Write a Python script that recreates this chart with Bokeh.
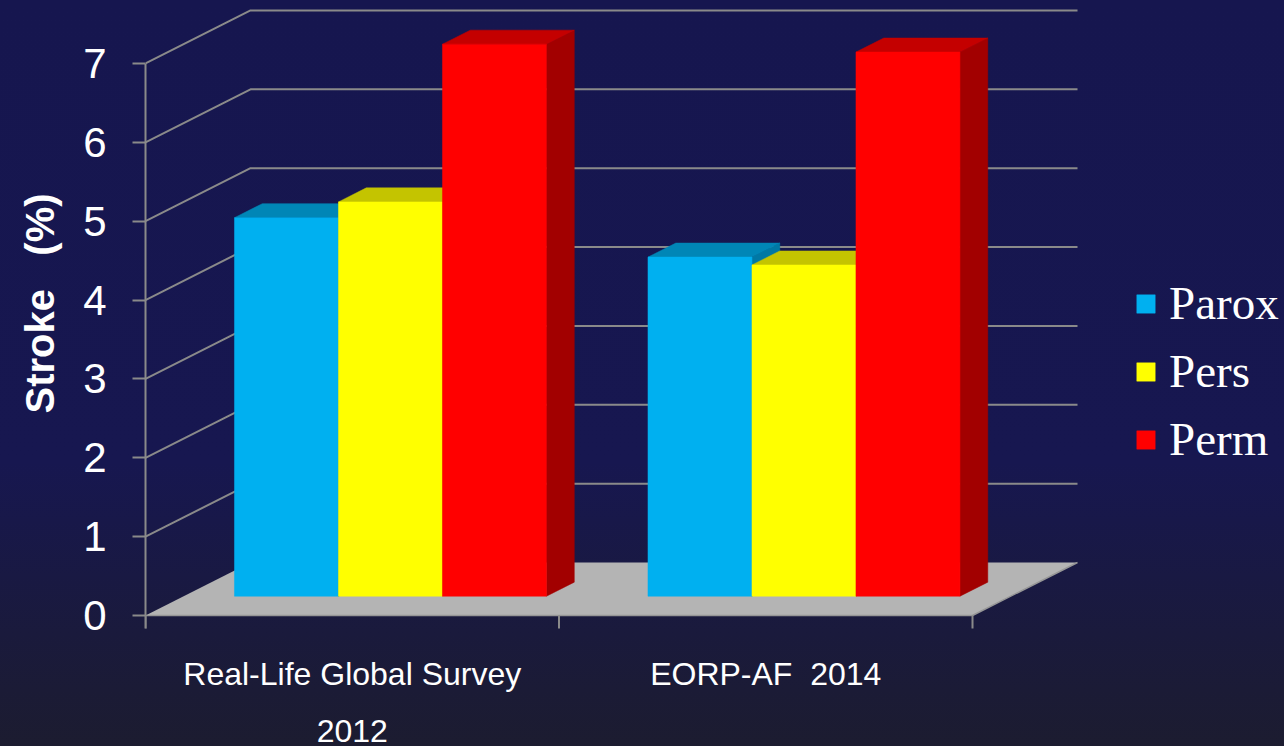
from bokeh.plotting import figure
from bokeh.models import (Range1d, LinearAxis, FixedTicker, Legend, LegendItem, Title)
from bokeh.embed import file_html
from bokeh.resources import INLINE
from bokeh.core.properties import value

# ---- data -------------------------------------------------------------
NBSP = "\u00a0"
categories = ["Real-Life Global Survey\n2012", "EORP-AF" + NBSP * 2 + "2014"]
series = ["Parox", "Pers", "Perm"]
parox = [4.8, 4.3]
pers = [5.0, 4.2]
perm = [7.0, 6.9]
y_ticks = [0, 1, 2, 3, 4, 5, 6, 7]
y_title = "Stroke" + NBSP * 3 + "(%)"

# ---- styling ----------------------------------------------------------
front_colors = ["#00b0f0", "#ffff00", "#ff0000"]
top_colors = ["#0086b6", "#c4c400", "#c40000"]
side_colors = ["#0078a4", "#a8a800", "#a20000"]
grid_color = "#8a8a8a"
floor_color = "#b4b4b4"

# ---- geometry of the oblique 3-D box (pixels) ---------------------------
W, H = 1284, 746
LEFT = 145          # frame starts here; front-left axis sits on it
PX_X = 413.5        # pixels per category
PX_Y = 78.86        # pixels per value unit
ZERO_Y = 615        # pixel row of value 0 on the front plane
DEPTH_PX = (105, 53)
DX = DEPTH_PX[0] / PX_X      # full depth offset in data units
DY = DEPTH_PX[1] / PX_Y
BAR_W = 0.2515
PAD = (1 - 3 * BAR_W) / 2
Z0, Z1 = 0.364, 0.364 + 0.265   # bar depth slab (fraction of full depth)
TICK = 13 / PX_Y

def proj(x, v, z):
    return x + z * DX, v + z * DY

def px_to_x(px):
    return (px - LEFT) / PX_X

def px_to_y(py):
    return (ZERO_Y - py) / PX_Y

p = figure(width=W, height=H,
           x_range=Range1d(0, px_to_x(W)),
           y_range=Range1d(px_to_y(H), px_to_y(0)),
           x_axis_type=None, y_axis_type=None,
           output_backend="svg", toolbar_location=None,
           min_border_left=LEFT, min_border_right=0,
           min_border_top=0, min_border_bottom=0)
p.outline_line_color = None
p.background_fill_color = None
p.border_fill_color = None
p.styles = {"background": "linear-gradient(to bottom, #16164f 0%, #171750 62%, #1a1a3c 85%, #1c1c30 100%)"}

# gridlines on the left wall and the back wall
ncat = len(categories)
wall_xs, wall_ys = [], []
for t in y_ticks[1:]:
    wall_xs.append([0, DX, ncat + DX])
    wall_ys.append([t, t + DY, t + DY])
p.multi_line(wall_xs, wall_ys, line_color=grid_color, line_width=2)

# floor
fx = [0, ncat, ncat + DX, DX]
fy = [0, 0, DY, DY]
p.patch(fx, fy, fill_color=floor_color, line_color=None)
p.line([0, ncat, ncat + DX], [0, 0, DY], line_color="#969696", line_width=1.5)

# category ticks and labels
p.segment(x0=list(range(ncat + 1)), y0=[0] * (ncat + 1),
          x1=list(range(ncat + 1)), y1=[-TICK] * (ncat + 1),
          line_color=grid_color, line_width=2)
p.text(x=[i + 0.5 for i in range(ncat)], y=[px_to_y(655)] * ncat, text=categories,
       text_font=value("Liberation Sans"), text_font_size="32px",
       text_color="white", text_align="center", text_baseline="top",
       text_line_height=1.6)

# bars
values = [parox, pers, perm]
legend_items = []
for s, name in enumerate(series):
    front, top, side = ([], []), ([], []), ([], [])
    for g in range(ncat):
        v = values[s][g]
        x0 = g + PAD + s * BAR_W
        x1 = x0 + BAR_W
        faces = {
            "front": [(x0, 0, Z0), (x1, 0, Z0), (x1, v, Z0), (x0, v, Z0)],
            "top": [(x0, v, Z0), (x1, v, Z0), (x1, v, Z1), (x0, v, Z1)],
            "side": [(x1, 0, Z0), (x1, 0, Z1), (x1, v, Z1), (x1, v, Z0)],
        }
        for key, store in (("front", front), ("top", top), ("side", side)):
            pts = [proj(*q) for q in faces[key]]
            store[0].append([a for a, _ in pts])
            store[1].append([b for _, b in pts])
    p.patches(side[0], side[1], fill_color=side_colors[s], line_color=side_colors[s], line_width=0.5)
    p.patches(top[0], top[1], fill_color=top_colors[s], line_color=top_colors[s], line_width=0.5)
    r = p.patches(front[0], front[1], fill_color=front_colors[s],
                  line_color=front_colors[s], line_width=0.5)
    legend_items.append(LegendItem(label=name, renderers=[r]))

# value axis on the front-left edge
yaxis = LinearAxis(ticker=FixedTicker(ticks=y_ticks), bounds=(-TICK, 7),
                   axis_line_color=grid_color, axis_line_width=2,
                   major_tick_line_color=grid_color, major_tick_line_width=2,
                   major_tick_out=13, major_tick_in=0,
                   minor_tick_out=0, minor_tick_in=0,
                   major_label_text_font="Liberation Sans",
                   major_label_text_font_size="42px",
                   major_label_text_color="white",
                   major_label_standoff=26)
p.add_layout(yaxis, "left")

# value-axis title beside the tick labels, starting 333 px above the bottom
p.add_layout(Title(text=y_title, align="left", offset=333, standoff=33,
                   vertical_align="top",
                   text_font="Liberation Sans", text_font_style="bold",
                   text_font_size="40px", text_color="white"), "left")

legend = Legend(items=legend_items, location=(989, 280),
                glyph_width=23, glyph_height=23, label_standoff=12,
                spacing=14, padding=0, margin=0,
                label_text_font="Liberation Serif", label_text_font_size="47px",
                label_text_color="white",
                border_line_color=None, background_fill_alpha=0)
p.add_layout(legend)

open("out.html", "w").write(file_html(p, INLINE))
